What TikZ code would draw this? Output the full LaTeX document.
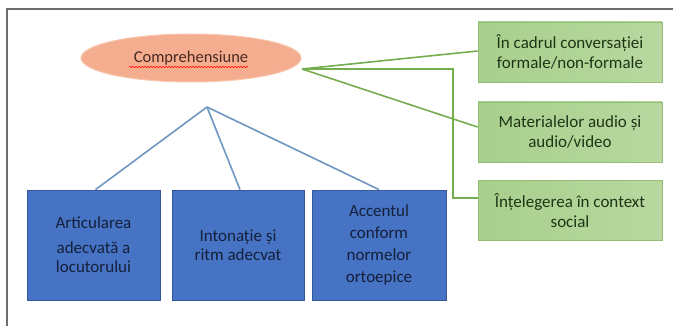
\documentclass[tikz,border=0pt]{standalone}
\usepackage{fontspec}
\setmainfont{Carlito}
\usetikzlibrary{shapes.geometric,decorations.pathmorphing}
\definecolor{framegrey}{HTML}{6E6E6E}
\definecolor{ellfill}{HTML}{F4AD8E}
\definecolor{elldraw}{HTML}{F7C6AC}
\definecolor{elltext}{HTML}{4A2A22}
\definecolor{greenline}{HTML}{74AE4E}
\definecolor{greenfillA}{HTML}{A8CF8C}
\definecolor{greenfillB}{HTML}{B8D8A0}
\definecolor{greendraw}{HTML}{92BF75}
\definecolor{greentext}{HTML}{1F3515}
\definecolor{blueline}{HTML}{6F97C2}
\definecolor{bluefill}{HTML}{4673C4}
\definecolor{bluedraw}{HTML}{33579A}
\definecolor{bluetext}{HTML}{14203A}
\tikzset{
  ellnode/.style={ellipse, draw=elldraw, line width=1pt, fill=ellfill,
    minimum width=220pt, minimum height=48pt, inner sep=0pt,
    font=\fontsize{16.5}{19}\selectfont, text=elltext},
  greenbox/.style={rectangle, draw=greendraw, line width=0.8pt,
    left color=greenfillA, right color=greenfillB,
    minimum width=184pt, minimum height=60pt, inner sep=2pt, align=center,
    font=\fontsize{17}{20}\selectfont, text=greentext},
  bluebox/.style={rectangle, draw=bluedraw, line width=0.8pt, fill=bluefill,
    minimum height=110pt, inner sep=2pt, align=center,
    font=\fontsize{17}{19}\selectfont, text=bluetext},
  greenconn/.style={draw=greenline, line width=1.6pt},
  blueconn/.style={draw=blueline, line width=1.6pt},
}
\begin{document}
\begin{tikzpicture}[x=1pt,y=-1pt]
\useasboundingbox (0,0) rectangle (673,326);
\fill[white] (0,0) rectangle (673,326);
% frame (top and left edges)
\draw[framegrey, line width=1.5pt] (7,326) -- (7,9) -- (673,9);

% nodes
\node[ellnode] (E) at (191,58) {Comprehensiune};
\draw[red, line width=0.5pt, decorate, decoration={snake, amplitude=0.7pt, segment length=3pt}]
  (129,67) -- (248,67);

\node[greenbox] (G1) at (570,52) {În cadrul conversației\\formale/non-formale};
\node[greenbox] (G2) at (570,132) {Materialelor audio și\\audio/video};
\node[greenbox] (G3) at (570,210.5) {Înțelegerea în context\\social};

\node[bluebox, minimum width=133pt] (B1) at (93.5,245) {Articularea\\[6pt]adecvată a\\locutorului};
\node[bluebox, minimum width=132pt] (B2) at (238,245) {Intonație și\\ritm adecvat};
\node[bluebox, minimum width=134pt, font=\fontsize{17}{22}\selectfont] (B3) at (379,245) {Accentul\\conform\\normelor\\ortoepice};

% connectors
\coordinate (g) at (302,69);
\coordinate (gk) at (453,69);
\coordinate (g3in) at (478,198);
\coordinate (apex) at (207,107);

\draw[greenconn] (g) -- ([yshift=1pt]G1.west);
\draw[greenconn] (g) -- ([yshift=5pt]G2.west);
\draw[greenconn] (g) -- (gk) |- (g3in);

\draw[blueconn] (apex) -- ([xshift=2pt]B1.north);
\draw[blueconn] (apex) -- ([xshift=2pt]B2.north);
\draw[blueconn] (apex) -- (B3.north);
\end{tikzpicture}
\end{document}
